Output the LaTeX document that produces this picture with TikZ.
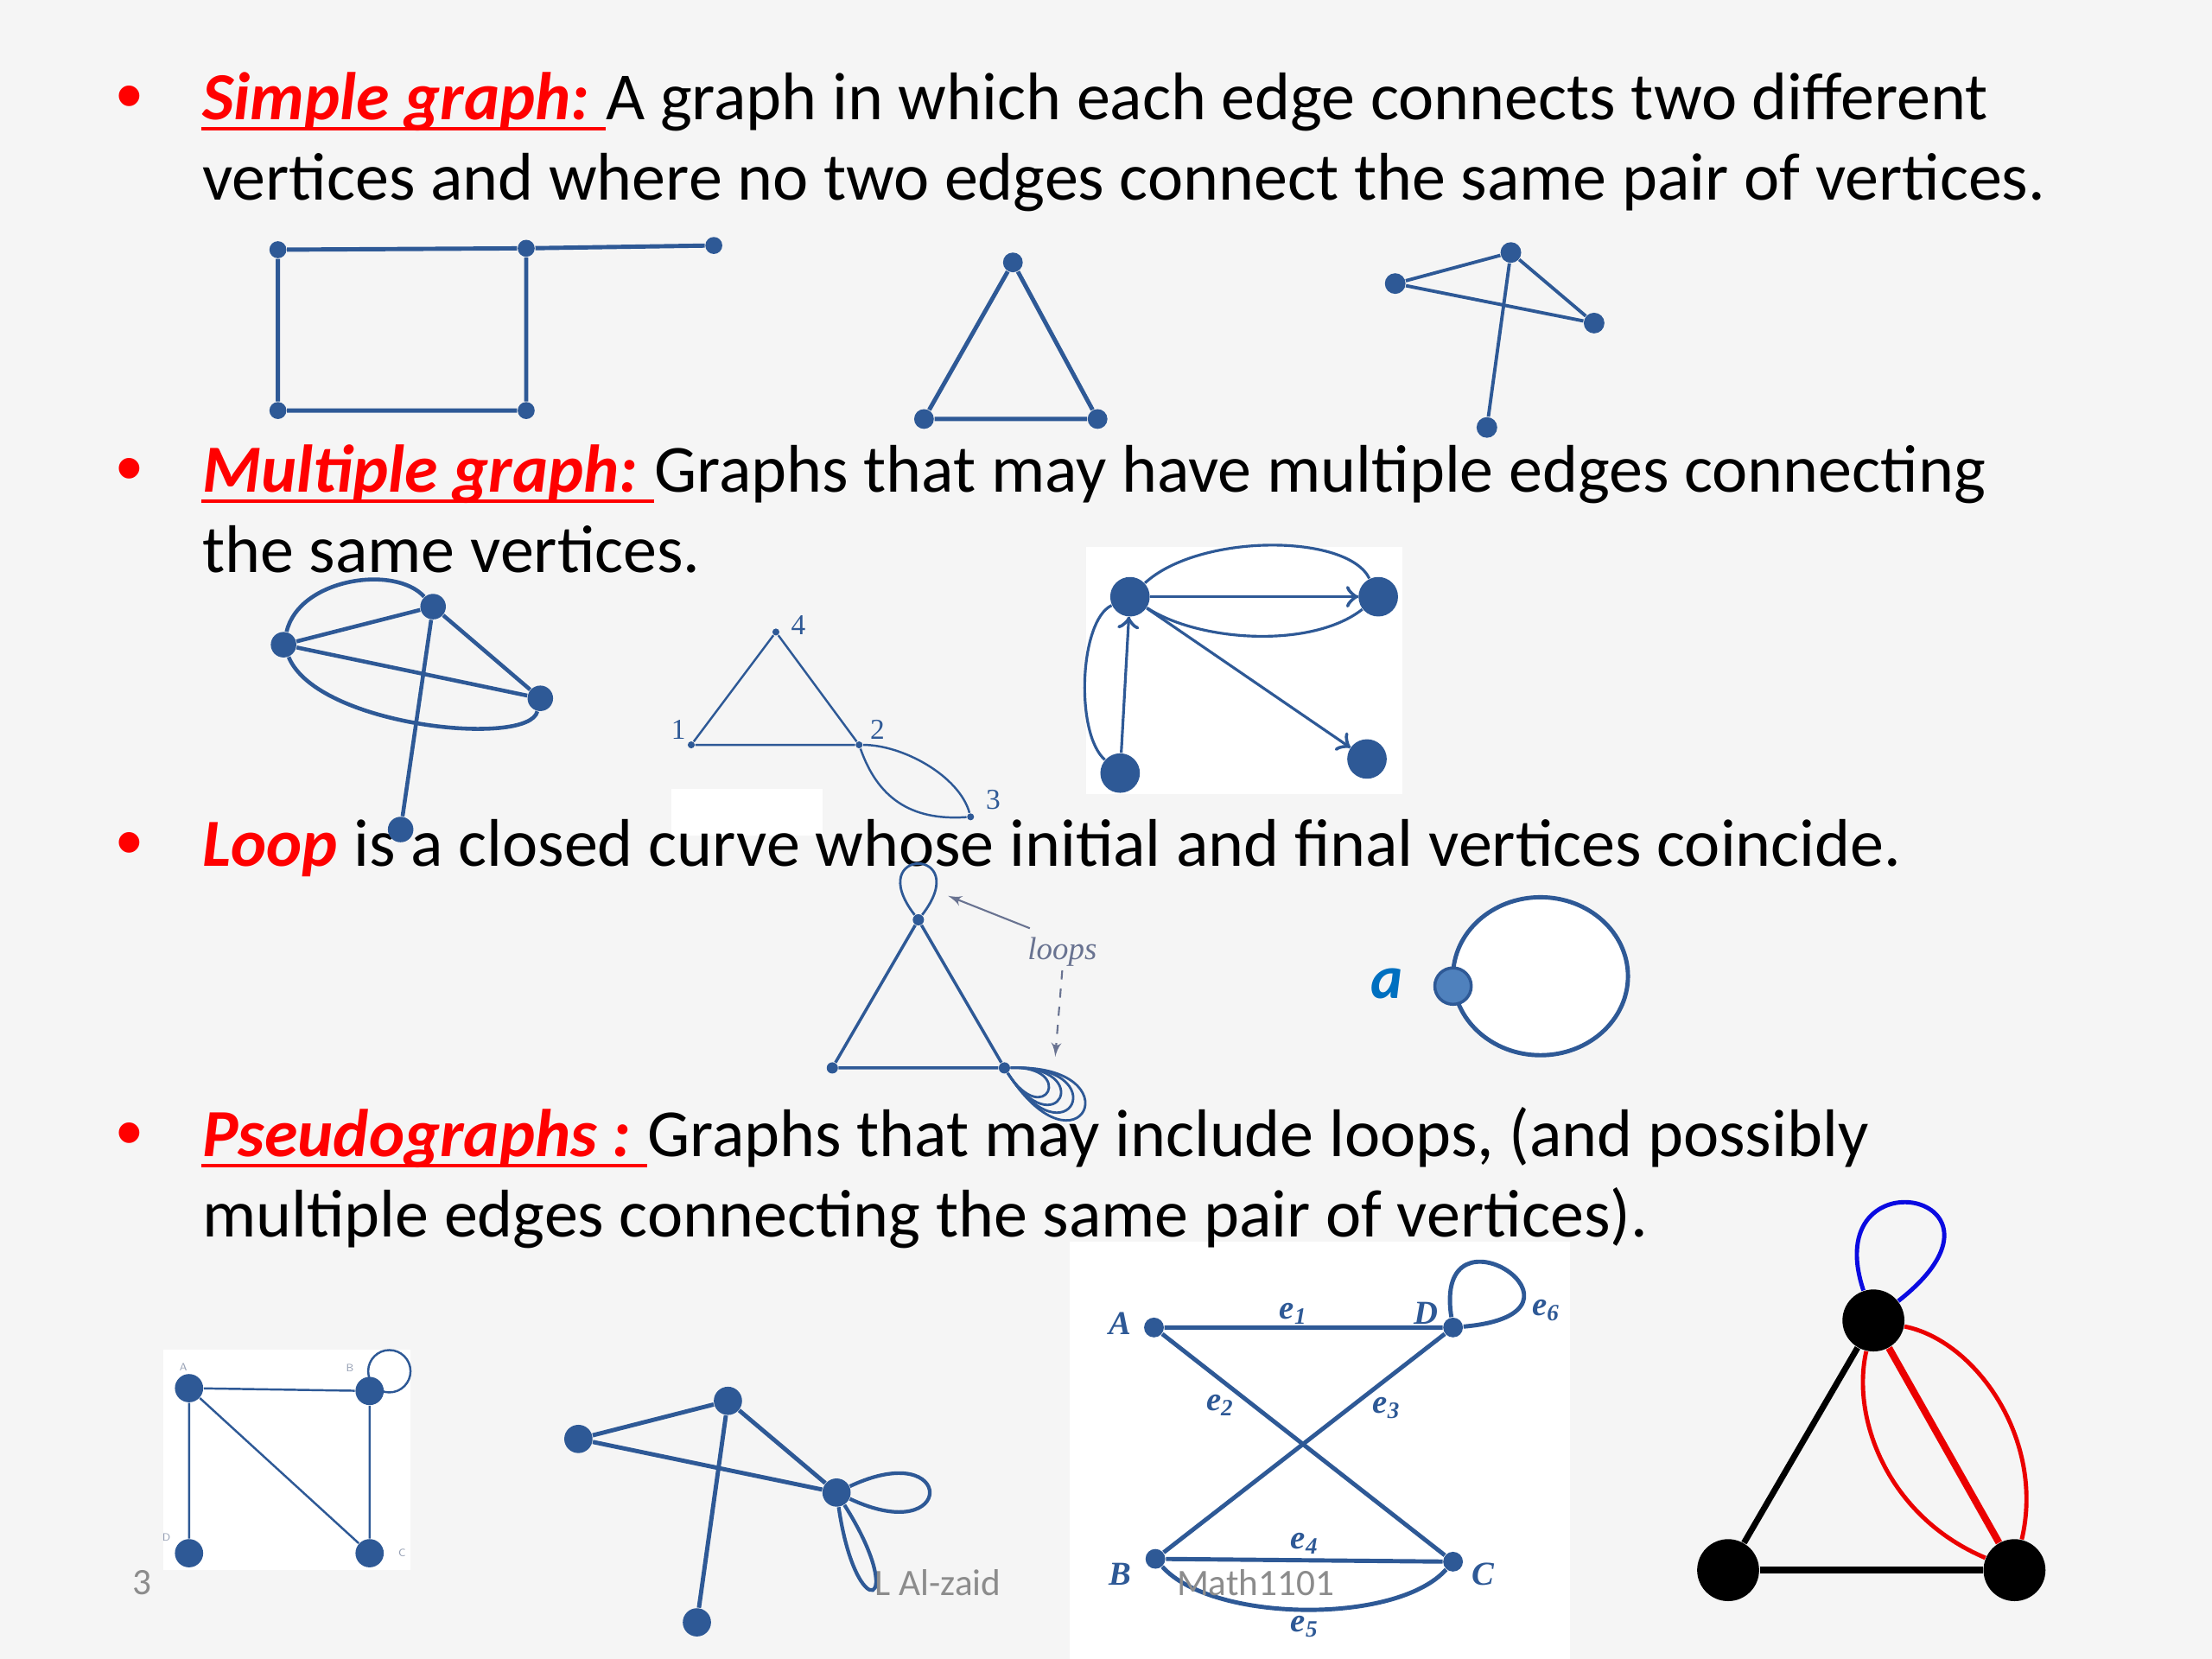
\documentclass[tikz,border=0pt]{standalone}
\usepackage{fontspec}
\setmainfont{Carlito}
\newfontfamily\seriffont{Liberation Serif}
\newfontfamily\bulfont{Liberation Sans}
\usetikzlibrary{arrows}
\usetikzlibrary{decorations.markings}
\usetikzlibrary{positioning}
\definecolor{bgray}{RGB}{245,245,245}
\definecolor{gblue}{RGB}{46,89,150}
\definecolor{ablue}{RGB}{0,112,192}
\definecolor{nblue}{RGB}{79,129,189}
\definecolor{lgray}{RGB}{105,115,145}
\definecolor{fgray}{RGB}{140,140,140}
\definecolor{tgray}{RGB}{150,160,180}
\definecolor{lred}{RGB}{235,0,0}
\definecolor{lblue}{RGB}{10,10,225}
\tikzset{vtx/.style = {fill=gblue, circle, inner sep = 0, minimum size = #1}}
\tikzset{bvtx/.style = {fill=black, circle, inner sep = 0, minimum size = #1}}
\tikzset{txt/.style = {inner sep = 0, font = \fontsize{22.2}{26}\selectfont}}
\tikzset{lbl/.style = {inner sep = 0, text = red, font = \fontsize{22.2}{26}\selectfont\bfseries\itshape}}
\tikzset{bul/.style = {inner sep = 0, text = red, anchor = base, font = \bulfont\fontsize{25}{28}\selectfont}}
\tikzset{uline/.style = {red, line width = 1.15pt}}
\tikzset{edge/.style = {gblue, line width = #1}}
\tikzset{foot/.style = {inner sep = 0, text = fgray, font = \fontsize{12.3}{14}\selectfont}}
\tikzset{num/.style = {inner sep = 0, text = gblue, font = \seriffont\fontsize{9.5}{10}\selectfont}}
\tikzset{elbl/.style = {inner sep = 0, text = gblue, font = \seriffont\fontsize{11}{12}\selectfont\bfseries\itshape}}
\tikzset{tlbl/.style = {inner sep = 0, text = tgray, font = \sffamily\fontsize{3.5}{4}\selectfont}}
\tikzset{arr/.style = {decoration={markings,
                                   mark=at position 1 with {\arrow[scale=1.4]{to}}},
                       postaction={decorate}}}

\begin{document}
\begin{tikzpicture}[x=0.016327cm, y=-0.016327cm]
      \fill [bgray] (0,0) rectangle (1568,1176);
      \useasboundingbox (0,0) rectangle (1568,1176);
      \fill [white] (770,388) rectangle (994,563);
      \fill [white] (116,957) rectangle (291,1113);
      \fill [white] (758,880) rectangle (1113,1176);
      \fill [white] (476,559) rectangle (583,592);

      \node [bul] (b1) at (92,86) {•};
      \node [lbl, anchor = base west] (sgl) at (143,85) {Simple graph:};
      \node [txt, base right = 5pt of sgl] (sgt) {A graph in which each edge connects two different};
      \node [txt, anchor = base west] (sg2) at (143,142) {vertices and where no two edges connect the same pair of vertices.};
      \draw [uline] ([yshift=-2.9pt]sgl.base west) -- ([yshift=-2.9pt]sgt.base west);

      \node [bul] (b2) at (92,350) {•};
      \node [lbl, anchor = base west] (mgl) at (143,349) {Multiple graph:};
      \node [txt, base right = 5pt of mgl] (mgt) {Graphs that may have multiple edges connecting};
      \node [txt, anchor = base west] (mg2) at (143,406) {the same vertices.};
      \draw [uline] ([yshift=-2.9pt]mgl.base west) -- ([yshift=-2.9pt]mgt.base west);

      \node [bul] (b3) at (92,615) {•};
      \node [lbl, anchor = base west] (lpl) at (143,614) {Loop};
      \node [txt, base right = 5pt of lpl] (lpt) {is a closed curve whose initial and final vertices coincide.};

      \node [bul] (b4) at (92,821) {•};
      \node [lbl, anchor = base west] (pgl) at (143,820) {Pseudographs :};
      \node [txt, base right = 5pt of pgl] (pgt) {Graphs that may include loops, (and possibly};
      \node [txt, anchor = base west] (pg2) at (143,877) {multiple edges connecting the same pair of vertices).};
      \draw [uline] ([yshift=-2.9pt]pgl.base west) -- ([yshift=-2.9pt]pgt.base west);

      \node [vtx=5.6pt] (g1a) at (197,177) {};
      \node [vtx=5.6pt] (g1b) at (373,176) {};
      \node [vtx=5.6pt] (g1c) at (506,174) {};
      \node [vtx=5.6pt] (g1d) at (197,291) {};
      \node [vtx=5.6pt] (g1e) at (373,291) {};
      \draw [edge=1.4pt] (g1a) -- (g1b) -- (g1e) -- (g1d) -- (g1a);
      \draw [edge=1.4pt] (g1b) -- (g1c);

      \node [vtx=6.5pt] (g2a) at (718,186) {};
      \node [vtx=6.5pt] (g2b) at (655,297) {};
      \node [vtx=6.5pt] (g2c) at (778,297) {};
      \draw [edge=1.4pt] (g2a) -- (g2b) -- (g2c) -- (g2a);

      \node [vtx=6.8pt] (g3a) at (1071,179) {};
      \node [vtx=6.8pt] (g3b) at (989,201) {};
      \node [vtx=6.8pt] (g3c) at (1130,229) {};
      \node [vtx=6.8pt] (g3d) at (1054,303) {};
      \draw [edge=1.1pt] (g3a) -- (g3b) -- (g3c) -- (g3a) -- (g3d);

      \node [vtx=8.4pt] (g4a) at (201,457) {};
      \node [vtx=8.4pt] (g4b) at (307,430) {};
      \node [vtx=8.4pt] (g4c) at (383,495) {};
      \node [vtx=8.4pt] (g4d) at (284,588) {};
      \draw [edge=1.3pt] (g4a) -- (g4b) -- (g4c) -- (g4a);
      \draw [edge=1.3pt] (g4b) -- (g4d);
      \draw [edge=1.3pt] (g4a) .. controls (212,410) and (280,400) .. (g4b);
      \draw [edge=1.3pt] (g4a) .. controls (225,515) and (375,530) .. (g4c);

      \node [vtx=2.3pt] (g5a) at (490,528) {};
      \node [vtx=2.3pt] (g5b) at (609,528) {};
      \node [vtx=2.3pt] (g5c) at (688,579) {};
      \node [vtx=2.3pt] (g5d) at (550,448) {};
      \node [num] (n1) at (481,517) {1};
      \node [num] (n2) at (622,517) {2};
      \node [num] (n3) at (704,567) {3};
      \node [num] (n4) at (566,443) {4};
      \draw [edge=0.7pt] (g5a) -- (g5d) -- (g5b) -- (g5a);
      \draw [edge=0.7pt] (g5b) .. controls (640,528) and (680,550) .. (g5c);
      \draw [edge=0.7pt] (g5b) .. controls (622,565) and (645,582) .. (g5c);

      \node [vtx=13pt] (g6a) at (801,423) {};
      \node [vtx=13pt] (g6b) at (977,423) {};
      \node [vtx=13pt] (g6c) at (794,548) {};
      \node [vtx=13pt] (g6d) at (969,538) {};
      \draw [edge=0.9pt, arr] (g6b) .. controls (955,378) and (850,378) .. (g6a);
      \draw [edge=0.9pt, arr] (g6a) -- (g6b);
      \draw [edge=0.9pt, arr] (g6a) .. controls (850,455) and (930,460) .. (g6b);
      \draw [edge=0.9pt, arr] (g6a) -- (g6d);
      \draw [edge=0.9pt, arr] (g6a) .. controls (765,440) and (762,520) .. (g6c);
      \draw [edge=0.9pt, arr] (g6c) -- (g6a);

      \node [vtx=3.7pt] (g7a) at (651,652) {};
      \node [vtx=3.7pt] (g7b) at (590,757) {};
      \node [vtx=3.7pt] (g7c) at (712,757) {};
      \draw [edge=1pt] (g7a) -- (g7b) -- (g7c) -- (g7a);
      \draw [edge=0.8pt] (g7a) .. controls +(-40,-52) and +(40,-52) .. (g7a);
      \foreach \s in {32,41,50,59}
        \draw [edge=0.8pt] (g7c) .. controls +({1.6*\s},{-0.05*\s}) and +({0.9*\s},{1.4*\s}) .. (g7c);
      \node [inner sep = 1pt, text = lgray, font = \seriffont\itshape\fontsize{10.5}{12}\selectfont] (lps) at (753,675) {loops};
      \coordinate (lpt1) at (672,635);
      \coordinate (lpt2) at (748,749);
      \draw [lgray, line width = 0.6pt, -latex'] (730,658) -- (lpt1);
      \draw [lgray, line width = 0.6pt, dashed, -latex'] (lps.south) -- (lpt2);

      \draw [gblue, line width = 1.4pt, fill = white] (1092,692) ellipse [x radius = 62, y radius = 56];
      \node [circle, fill = nblue, draw = gblue, line width = 1pt, inner sep = 0, minimum size = 12pt] (g8a) at (1030,699) {};
      \node [inner sep = 0, text = ablue, font = \fontsize{20}{22}\selectfont\bfseries\itshape] (alb) at (983,697) {a};

      \node [vtx=9.3pt] (g9a) at (134,984) {};
      \node [vtx=9.3pt] (g9b) at (262,986) {};
      \node [vtx=9.3pt] (g9c) at (262,1101) {};
      \node [vtx=9.3pt] (g9d) at (134,1101) {};
      \draw [edge=0.7pt] (g9d) -- (g9a) -- (g9b) -- (g9c) -- (g9a);
      \draw [edge=0.7pt] ([shift={(14,-14)}]g9b.center) circle [radius = 15];
      \node [tlbl] (ta) at (130,969) {A};
      \node [tlbl] (tb) at (248,970) {B};
      \node [tlbl] (tc) at (285,1101) {C};
      \node [tlbl] (td) at (118,1090) {D};

      \node [vtx=9.3pt] (g10a) at (410,1020) {};
      \node [vtx=9.3pt] (g10b) at (516,993) {};
      \node [vtx=9.3pt] (g10c) at (593,1058) {};
      \node [vtx=9.3pt] (g10d) at (494,1150) {};
      \draw [edge=1.4pt] (g10a) -- (g10b) -- (g10c) -- (g10a);
      \draw [edge=1.4pt] (g10b) -- (g10d);
      \draw [edge=1.2pt] (g10c) .. controls +(85,-40) and +(85,40) .. (g10c);
      \draw [edge=1.2pt] (g10c) .. controls +(52,82) and +(14,96) .. (g10c);

      \node [vtx=6.5pt] (g11a) at (818,941) {};
      \node [vtx=6.5pt] (g11d) at (1030,941) {};
      \node [vtx=6.5pt] (g11b) at (819,1105) {};
      \node [vtx=6.5pt] (g11c) at (1030,1107) {};
      \draw [edge=1.4pt] (g11a) -- (g11d) -- (g11b) -- (g11c) -- (g11a);
      \draw [edge=1.4pt] (g11b) .. controls +(40,45) and +(-40,45) .. (g11c);
      \draw [edge=1.4pt] (g11d) .. controls +(-15,-95) and +(115,-10) .. (g11d);
      \node [elbl] (la) at (794,938) {A};
      \node [elbl] (ld) at (1011,931) {D};
      \node [elbl] (lb) at (794,1116) {B};
      \node [elbl] (lc) at (1051,1116) {C};
      \node [elbl] (le1) at (917,931) {e\textsubscript{1}};
      \node [elbl] (le2) at (865,996) {e\textsubscript{2}};
      \node [elbl] (le3) at (983,998) {e\textsubscript{3}};
      \node [elbl] (le4) at (925,1094) {e\textsubscript{4}};
      \node [elbl] (le5) at (925,1153) {e\textsubscript{5}};
      \node [elbl] (le6) at (1096,929) {e\textsubscript{6}};

      \node [bvtx=20.4pt] (g12a) at (1328,936) {};
      \node [bvtx=20.4pt] (g12b) at (1225,1113) {};
      \node [bvtx=20.4pt] (g12c) at (1428,1113) {};
      \draw [black, line width = 2pt] (g12a) -- (g12b);
      \draw [black, line width = 2.3pt] (g12b) -- (g12c);
      \draw [lred, line width = 2.3pt] (g12a) -- (g12c);
      \draw [lred, line width = 1.4pt] (g12a) .. controls (1312,1005) and (1338,1075) .. (g12c);
      \draw [lred, line width = 1.4pt] (g12a) .. controls (1400,950) and (1450,1020) .. (g12c);
      \draw [lblue, line width = 1.4pt] (g12a) .. controls +(-40,-120) and +(115,-90) .. (g12a);

      \node [foot] (pno) at (101,1122) {3};
      \node [foot] (aut) at (665,1122) {L Al-zaid};
      \node [foot] (crs) at (890,1122) {Math1101};
    \end{tikzpicture}
\end{document}
